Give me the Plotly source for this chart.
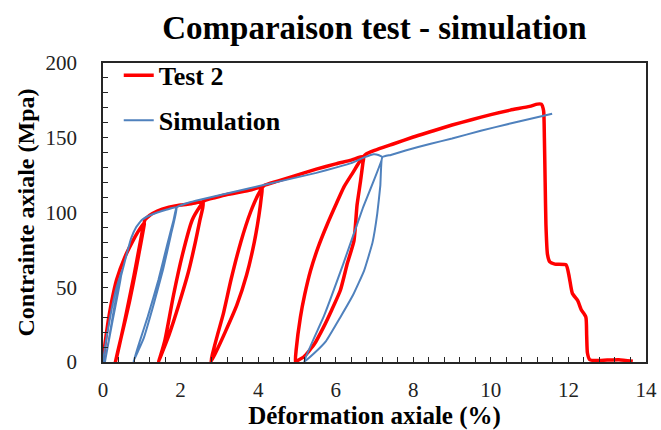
import plotly.graph_objects as go

# ---- Data ----
test_x = [0, 0.04, 0.12, 0.22, 0.35, 0.56, 0.75, 0.9, 1.0, 1.07,
          1.05, 0.98, 0.85, 0.68, 0.5, 0.38, 0.32,
          0.36, 0.48, 0.62, 0.8, 0.96, 1.08,
          1.2, 1.4, 1.7, 2.0, 2.3, 2.58,
          2.57, 2.5, 2.38, 2.2, 1.95, 1.7, 1.52, 1.43,
          1.48, 1.6, 1.82, 2.05, 2.3, 2.5, 2.62,
          2.9, 3.2, 3.5, 3.8, 4.1,
          4.08, 4.02, 3.9, 3.7, 3.45, 3.15, 2.9, 2.78,
          2.82, 2.95, 3.1, 3.3, 3.55, 3.8, 4.0, 4.15,
          4.5, 5.0, 5.5, 6.0, 6.4, 6.72,
          6.7, 6.64, 6.55, 6.47, 6.3, 6.12, 5.9, 5.69, 5.45, 5.18, 5.02, 4.96,
          4.98, 5.09, 5.2, 5.35, 5.55, 5.78, 6.0, 6.21, 6.45, 6.64, 6.78,
          7.0, 7.5, 8.0, 8.5, 9.0, 9.5, 10.0, 10.5, 11.0, 11.2, 11.3, 11.36,
          11.38, 11.4, 11.42, 11.46, 11.52, 11.65, 11.94, 12.02, 12.1, 12.24,
          12.33, 12.45, 12.47, 12.49, 12.55, 12.7, 13.0, 13.3, 13.66]
test_y = [0, 10, 25, 40, 55, 70, 80, 87, 91, 93,
          90, 80, 62, 40, 20, 7, 0,
          4, 18, 35, 58, 80, 95,
          98, 101, 103.5, 105, 106, 107,
          103, 95, 80, 60, 38, 18, 6, 0,
          4, 15, 45, 72, 95, 104, 108,
          110, 112, 113.5, 115, 117,
          110, 98, 80, 58, 38, 20, 6, 0,
          5, 18, 32, 55, 80, 100, 112, 118,
          121, 125, 129, 132.5, 135, 137.5,
          133, 121, 105, 81, 66, 48, 35, 23.5, 12, 3.5, 1, 0,
          8, 30, 45, 61, 77, 92, 105, 117, 127, 135, 139,
          141.5, 146, 150.5, 154.5, 158.5, 162, 165.5, 168.5, 171, 172.5, 172.5, 168,
          150, 120, 92, 72, 67, 65.5, 65, 57, 46, 41,
          35, 30, 18, 6, 1.5, 1, 1.3, 1.5, 0.5]

sim_x = [0, 0.1, 0.22, 0.35, 0.5,
         0.4, 0.25, 0.12, 0.05,
         0.15, 0.3, 0.45, 0.53,
         0.62, 0.73, 0.85, 1.0, 1.2, 1.4, 1.65, 1.9,
         1.75, 1.55, 1.3, 1.05, 0.9, 0.78,
         0.95, 1.15, 1.43, 1.65, 1.82, 1.9,
         2.2, 2.5, 3.0, 3.5, 4.0, 4.5, 5.0, 5.5, 6.0, 6.4, 6.75, 6.98, 7.1, 7.2,
         6.7, 6.2, 5.7, 5.18,
         5.45, 5.75, 6.12, 6.45, 6.73, 6.95, 7.07, 7.15, 7.2,
         7.42, 7.8, 8.45, 9.0, 9.74, 10.5, 11.0, 11.58]
sim_y = [0, 18, 35, 50, 62,
         48, 28, 10, 0,
         15, 38, 56, 64,
         73, 83, 90, 95, 98, 100, 102, 103.5,
         85, 62, 38, 16, 7, 0,
         14, 30, 55, 78, 95, 103.5,
         106.5, 108.5, 111.5, 114.5, 117.5, 120.5, 123.5, 126.5, 130, 133, 137, 139, 138.5, 137,
         103, 66, 31, 0,
         6, 14, 30, 45, 61, 80, 99, 118, 137,
         138.5, 141.5, 146, 149.5, 154.7, 159.5, 162.5, 166]

x_ticks = [0, 2, 4, 6, 8, 10, 12, 14]
y_ticks = [0, 50, 100, 150, 200]

SERIF = "Liberation Serif, Times New Roman, serif"

fig = go.Figure()
fig.add_trace(go.Scatter(x=test_x, y=test_y, mode="lines", name="<b>Test 2</b>",
                         legendgroup="a",
                         line=dict(color="#FF0000", width=3.5, shape="spline", smoothing=0.5)))
fig.add_trace(go.Scatter(x=sim_x, y=sim_y, mode="lines", name="<b>Simulation</b>",
                         legendgroup="b",
                         line=dict(color="#4F81BD", width=2, shape="spline", smoothing=0.35)))

axis_common = dict(showgrid=False, zeroline=False, showline=True, mirror=True,
                   automargin=False,
                   linecolor="#262626", linewidth=1.5, ticks="inside", ticklen=5,
                   tickcolor="#262626", tickfont=dict(family=SERIF, size=21, color="#222222"))

fig.update_layout(
    width=661, height=430,
    margin=dict(l=103, r=15, t=63, b=68),
    paper_bgcolor="white", plot_bgcolor="white",
    title=dict(text="<b>Comparaison test - simulation</b>", x=0.5, xref="paper",
               y=0.936, yanchor="middle", automargin=False,
               font=dict(family=SERIF, size=33, color="black")),
    xaxis=dict(range=[0, 14], tickvals=x_ticks, ticklabelstandoff=8,
               minor=dict(dtick=0.4, ticks="inside", ticklen=5, tickcolor="#262626"),
               title=dict(text="<b>Déformation axiale (%)</b>", standoff=17,
                          font=dict(family=SERIF, size=25, color="black")),
               **axis_common),
    yaxis=dict(range=[0, 200], tickvals=y_ticks, ticklabelstandoff=20,
               minor=dict(dtick=10, ticks="inside", ticklen=5, tickcolor="#262626"),
               title=dict(text="<b>Contrainte axiale (Mpa)</b>", standoff=4,
                          font=dict(family=SERIF, size=24, color="black")),
               **axis_common),
    showlegend=True,
    legend=dict(x=0.029, y=1.037, xanchor="left", yanchor="top",
                bgcolor="rgba(0,0,0,0)", tracegroupgap=8,
                font=dict(family=SERIF, size=26, color="black")),
)

fig.write_html("out.html", config={"displayModeBar": False},
               post_script="document.body.style.margin='0';")
